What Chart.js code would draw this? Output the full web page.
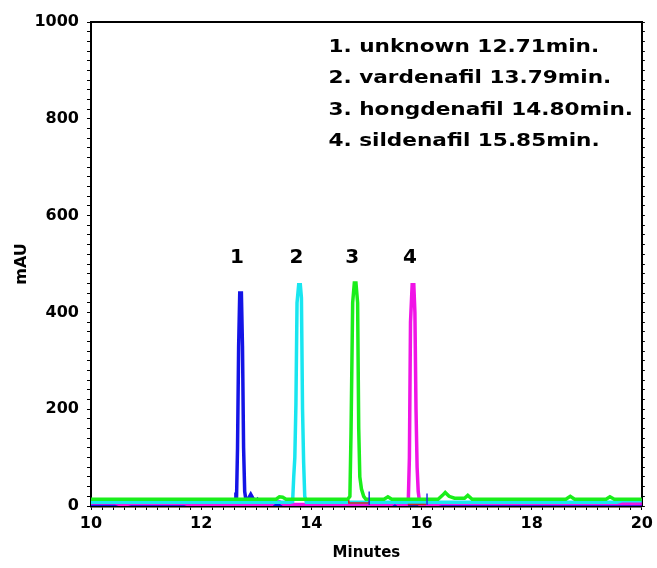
<!DOCTYPE html>
<html>
<head>
<meta charset="utf-8">
<script src="https://cdn.jsdelivr.net/npm/chart.js@4.4.0/dist/chart.umd.min.js"></script>
<style>
  html, body { margin: 0; background: #fff; }
  #wrap { width: 657px; height: 568px; }
</style>
</head>
<body>
<div id="wrap"><canvas id="chart"></canvas></div>
<script>
// chromatogram traces (minutes, mAU)
const blueX = [10.0, 11.70, 11.74, 11.78, 11.82, 11.86, 12.58, 12.62, 12.63, 12.64, 12.66, 12.68, 12.70, 12.73, 12.75, 12.77, 12.79, 12.82, 12.86, 12.90, 12.94, 12.98, 13.02, 13.06, 13.12, 13.18, 14.40, 14.45, 14.49, 14.53, 14.58, 20.0];
const blueY = [2, 2, 6, 9, 6, 2, 2, 3, 28, 5, 120, 330, 440, 440, 330, 120, 30, 6, 16, 24, 16, 8, 13, 5, 8, 2, 2, 7, 10, 7, 2, 2];

const cyanX = [10.0, 13.62, 13.66, 13.68, 13.70, 13.72, 13.74, 13.77, 13.80, 13.82, 13.84, 13.86, 13.88, 13.91, 19.55, 19.65, 20.0];
const cyanY = [8, 8, 9, 60, 100, 210, 420, 457, 457, 430, 200, 90, 20, 8, 8, 11, 11];

const greenX = [10.0, 13.36, 13.42, 13.48, 13.54, 14.66, 14.70, 14.72, 14.75, 14.78, 14.81, 14.84, 14.86, 14.88, 14.91, 14.95, 14.99, 15.32, 15.39, 15.46, 16.30, 16.38, 16.43, 16.50, 16.60, 16.78, 16.84, 16.92, 18.62, 18.70, 18.78, 19.35, 19.42, 19.50, 20.0];
const greenY = [14, 14, 19, 18, 14, 14, 20, 150, 420, 461, 461, 420, 160, 60, 35, 20, 14, 14, 19, 14, 14, 22, 28, 20, 16, 16, 22, 14, 14, 20, 14, 14, 19, 14, 14];

const magentaX = [10.0, 10.45, 10.52, 10.65, 10.72, 11.70, 11.76, 13.28, 13.35, 13.42, 13.50, 15.45, 15.52, 15.58, 15.73, 15.76, 15.78, 15.80, 15.83, 15.86, 15.88, 15.90, 15.92, 15.94, 15.97, 16.28, 16.36, 20.0];
const magentaY = [6, 6, 3, 3, 5, 5, 3, 3, 10, 9, 3, 3, 8, 3, 3, 10, 100, 380, 457, 457, 400, 200, 80, 30, 3, 3, 5, 5];

// integration marks
const blueMarkX = [15.05, 15.05, 15.5, 16.10, 16.10];
const blueMarkY = [2, 30, null, 2, 26];
const redMarkX = [14.68, 14.68, 15.05, 15.05, 15.5, 15.75, 16.08];
const redMarkY = [12, 6, 6, 10, null, 3, 3];

const peakTimes = [12.71, 13.79, 14.80, 15.85];
const peakNumbers = ["1", "2", "3", "4"];
const legendLines = [
  "1. unknown 12.71min.",
  "2. vardenafil 13.79min.",
  "3. hongdenafil 14.80min.",
  "4. sildenafil 15.85min."
];

const xLabels = [10, 12, 14, 16, 18, 20];
const yLabels = [0, 200, 400, 600, 800, 1000];

const pts = (xs, ys) => xs.map((x, i) => ({ x: x, y: ys[i] }));

const trace = (xs, ys, color, width) => ({
  data: pts(xs, ys),
  showLine: true,
  borderColor: color,
  backgroundColor: color,
  borderWidth: width,
  pointRadius: 0,
  spanGaps: false,
  tension: 0
});

// minor ticks every 0.2 min / 20 mAU
const minorX = () => {
  const t = [];
  for (let i = 0; i <= 50; i++) t.push({ value: Math.round((10 + i * 0.2) * 10) / 10 });
  return t;
};
const minorY = () => {
  const t = [];
  for (let i = 0; i <= 50; i++) t.push({ value: i * 20 });
  return t;
};

const onList = (list, v) => list.some(l => Math.abs(l - v) < 1e-6);

const tickFont = { family: "DejaVu Sans", size: 16, weight: "bold" };

const annotations = {
  id: "annotations",
  afterDatasetsDraw(chart) {
    const { ctx, chartArea, scales } = chart;
    ctx.save();
    // top frame line
    ctx.strokeStyle = "#000";
    ctx.lineWidth = 2;
    ctx.beginPath();
    ctx.moveTo(chartArea.left, chartArea.top);
    ctx.lineTo(chartArea.right, chartArea.top);
    ctx.stroke();

    ctx.fillStyle = "#000";
    ctx.textBaseline = "middle";
    ctx.textAlign = "center";
    ctx.font = "bold 20px 'DejaVu Sans'";
    peakTimes.forEach((t, i) => {
      ctx.fillText(peakNumbers[i], scales.x.getPixelForValue(t - 0.06), scales.y.getPixelForValue(512));
    });

    ctx.textAlign = "left";
    ctx.font = "bold 18px 'DejaVu Sans'";
    const lx = scales.x.getPixelForValue(14.31);
    legendLines.forEach((line, i) => {
      const ly = scales.y.getPixelForValue(948 - i * 65);
      ctx.save();
      ctx.translate(lx, ly);
      ctx.scale(1.2, 1);
      ctx.fillText(line, 0, 0);
      ctx.restore();
    });
    ctx.restore();
  }
};

new Chart(document.getElementById("chart").getContext("2d"), {
  type: "scatter",
  data: {
    datasets: [
      trace(blueMarkX, blueMarkY, "#2030e0", 1.5),
      trace(redMarkX, redMarkY, "#d02020", 1.5),
      trace(greenX, greenY, "#1aee1a", 3.5),
      trace(cyanX, cyanY, "#19e6f0", 3.5),
      trace(magentaX, magentaY, "#f014e6", 3.5),
      trace(blueX, blueY, "#1414e6", 3.5)
    ]
  },
  options: {
    responsive: true,
    maintainAspectRatio: false,
    animation: false,
    layout: { padding: { top: 22, left: 0, right: 0, bottom: 0 } },
    plugins: {
      legend: { display: false },
      tooltip: { enabled: false }
    },
    scales: {
      x: {
        type: "linear",
        min: 10,
        max: 20,
        afterBuildTicks: s => { s.ticks = minorX(); },
        afterFit: s => { s.height = 62; },
        ticks: {
          autoSkip: false,
          maxRotation: 0,
          color: "#000",
          padding: 4,
          font: tickFont,
          callback: v => onList(xLabels, v) ? String(Math.round(v)) : ""
        },
        grid: { drawOnChartArea: false, drawTicks: true, tickLength: 4, color: "#000" },
        border: { display: true, color: "#000", width: 2.5 },
        title: {
          display: true,
          text: "Minutes",
          color: "#000",
          font: { family: "DejaVu Sans", size: 15, weight: "bold" },
          padding: { top: 0, bottom: 6 }
        }
      },
      y: {
        min: 0,
        max: 1000,
        afterBuildTicks: s => { s.ticks = minorY(); },
        afterFit: s => { s.width = 91; },
        ticks: {
          autoSkip: false,
          color: "#000",
          padding: 8,
          font: tickFont,
          callback: v => onList(yLabels, v) ? String(v) : ""
        },
        grid: { drawOnChartArea: false, drawTicks: true, tickLength: 4, color: "#000" },
        border: { display: true, color: "#000", width: 2 },
        title: {
          display: true,
          text: "mAU",
          color: "#000",
          font: { family: "DejaVu Sans", size: 16, weight: "bold" },
          padding: { top: 12, bottom: 0 }
        }
      },
      y2: {
        position: "right",
        min: 0,
        max: 1000,
        afterBuildTicks: s => { s.ticks = minorY(); },
        afterFit: s => { s.width = 11; },
        ticks: { autoSkip: false, padding: 0, callback: () => "" },
        grid: { drawOnChartArea: false, drawTicks: true, tickLength: 3, color: "#000" },
        border: { display: true, color: "#000", width: 2 }
      }
    }
  },
  plugins: [annotations]
});
</script>
</body>
</html>
